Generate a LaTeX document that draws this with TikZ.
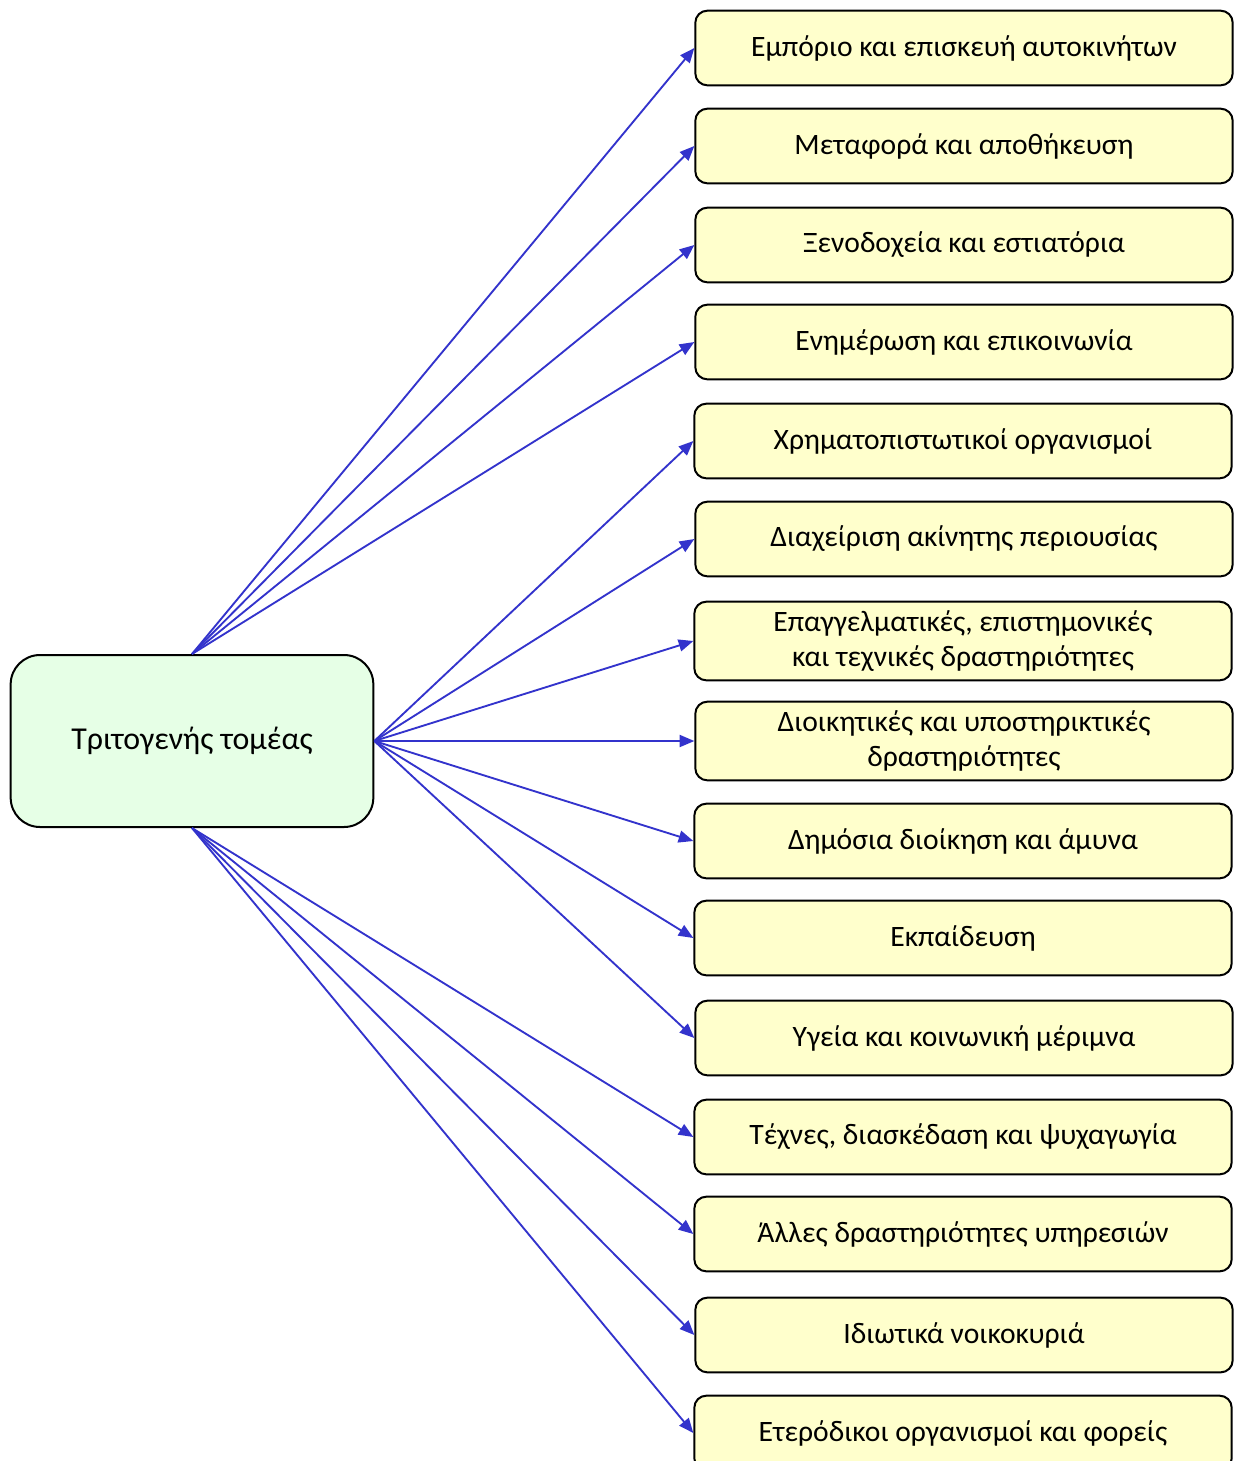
\documentclass[tikz,border=0pt]{standalone}
\usepackage{fontspec}
\setmainfont{Carlito}
\usetikzlibrary{arrows.meta}
\definecolor{arrowblue}{HTML}{3333CC}
\definecolor{boxyellow}{HTML}{FFFFCC}
\definecolor{boxgreen}{HTML}{E6FFE6}
\begin{document}
\begin{tikzpicture}[x=0.75pt,y=-0.75pt,
  leaf/.style={draw=black,line width=1.5pt,fill=boxyellow,rounded corners=9pt,
    minimum width=403pt,minimum height=56pt,inner sep=0pt,align=center,
    font=\fontsize{22.2}{26.5}\selectfont},
  root/.style={draw=black,line width=1.5pt,fill=boxgreen,rounded corners=22pt,
    minimum width=272pt,minimum height=129pt,inner sep=0pt,align=center,
    font=\fontsize{23.9}{28}\selectfont},
  arr/.style={draw=arrowblue,line width=1.4pt,-{Triangle[length=11pt,width=9pt]}}]
\clip (0,0) rectangle (1234,1461);
\fill[white] (0,0) rectangle (1234,1461);
\node[root] (c) at (192,741) {Τριτογενής τομέας};
\node[leaf] (b1) at (964,48) {Εμπόριο και επισκευή αυτοκινήτων};
\node[leaf] (b2) at (964,146) {Μεταφορά και αποθήκευση};
\node[leaf] (b3) at (964,245) {Ξενοδοχεία και εστιατόρια};
\node[leaf] (b4) at (964,342) {Ενημέρωση και επικοινωνία};
\node[leaf] (b5) at (963,441) {Χρηματοπιστωτικοί οργανισμοί};
\node[leaf] (b6) at (964,539) {Διαχείριση ακίνητης περιουσίας};
\node[leaf,minimum height=59pt] (b7) at (963,641) {Επαγγελματικές, επιστημονικές\\και τεχνικές δραστηριότητες};
\node[leaf,minimum height=59pt] (b8) at (964,741) {Διοικητικές και υποστηρικτικές\\δραστηριότητες};
\node[leaf] (b9) at (963,841) {Δημόσια διοίκηση και άμυνα};
\node[leaf] (b10) at (963,938) {Εκπαίδευση};
\node[leaf] (b11) at (964,1038) {Υγεία και κοινωνική μέριμνα};
\node[leaf] (b12) at (963,1137) {Τέχνες, διασκέδαση και ψυχαγωγία};
\node[leaf] (b13) at (963,1234) {Άλλες δραστηριότητες υπηρεσιών};
\node[leaf] (b14) at (964,1335) {Ιδιωτικά νοικοκυριά};
\node[leaf] (b15) at (963,1433) {Ετερόδικοι οργανισμοί και φορείς};
\foreach \i in {1,...,4} {\draw[arr] (c.north) -- (b\i.west);}
\foreach \i in {5,...,11} {\draw[arr] (c.east) -- (b\i.west);}
\foreach \i in {12,...,15} {\draw[arr] (c.south) -- (b\i.west);}
\end{tikzpicture}
\end{document}
